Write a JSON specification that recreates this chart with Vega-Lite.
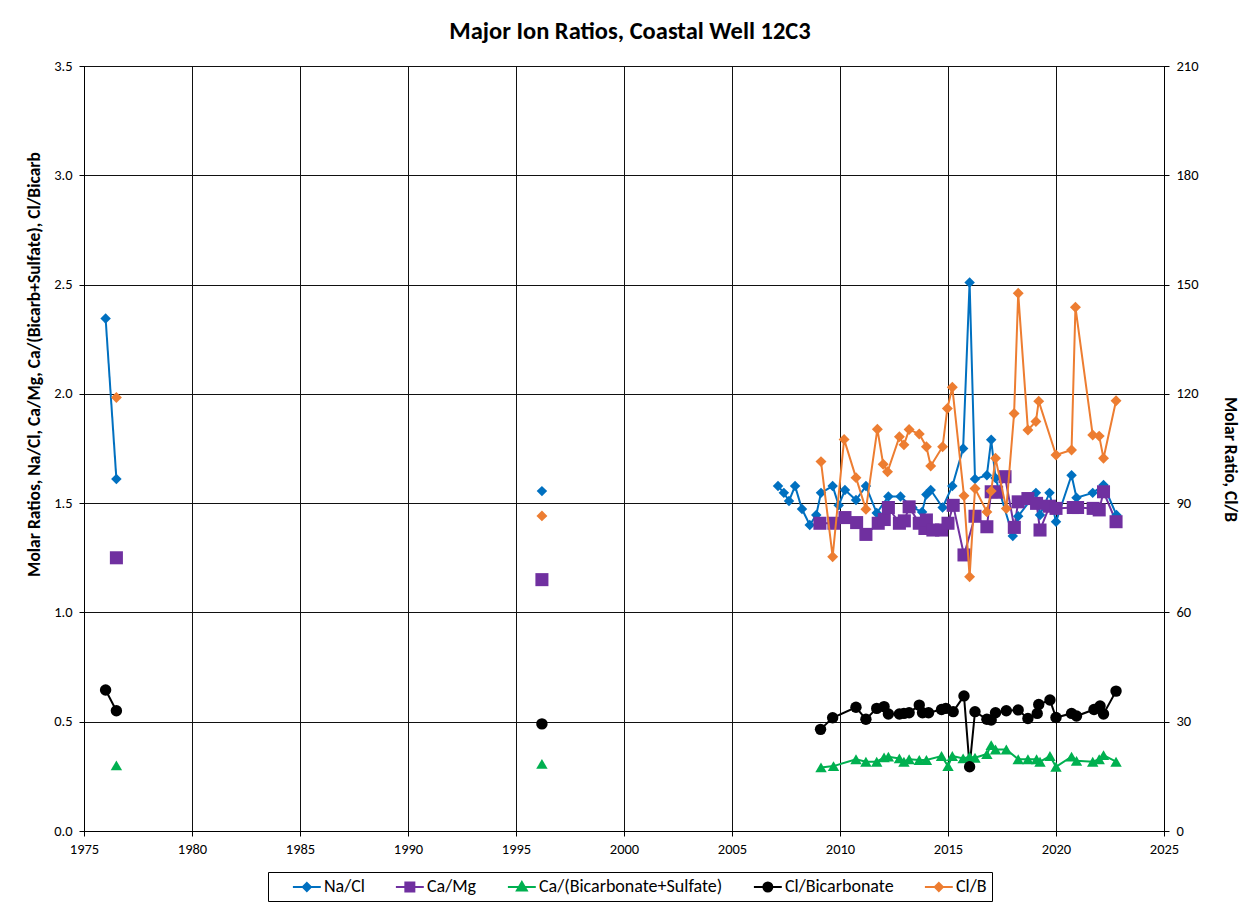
{
  "$schema": "https://vega.github.io/schema/vega-lite/v6.json",
  "width": 1080,
  "height": 765,
  "autosize": {"type": "none"},
  "padding": {"left": 84, "top": 66, "right": 89, "bottom": 76},
  "background": "white",
  "title": {"text": "Major Ion Ratios, Coastal Well 12C3", "fontSize": 24.5, "font": "Carlito, Lato, sans-serif", "fontWeight": "bold", "color": "#000", "offset": 14, "dx": 6},
  "config": {
    "font": "Carlito, Lato, sans-serif",
    "view": {"stroke": "#000", "strokeWidth": 1},
    "axis": {"labelFontSize": 14.5, "labelColor": "#000", "titleColor": "#000", "domainColor": "#000", "tickColor": "#000", "tickSize": 5, "gridColor": "#111", "gridWidth": 1, "gridOpacity": 1, "labelFont": "Carlito, Lato, sans-serif", "titleFont": "Carlito, Lato, sans-serif", "titleFontSize": 17.5, "titleFontWeight": "bold", "labelFlush": false, "labelPadding": 7}
  },
  "data": {"values": [
    {"s": "Na/Cl", "g": "a", "x": 1976.0, "v": 2.345},
    {"s": "Na/Cl", "g": "a", "x": 1976.5, "v": 1.61},
    {"s": "Na/Cl", "g": "b", "x": 1996.2, "v": 1.555},
    {"s": "Na/Cl", "g": "c", "x": 2007.13, "v": 1.578},
    {"s": "Na/Cl", "g": "c", "x": 2007.4, "v": 1.547},
    {"s": "Na/Cl", "g": "c", "x": 2007.64, "v": 1.51},
    {"s": "Na/Cl", "g": "c", "x": 2007.92, "v": 1.578},
    {"s": "Na/Cl", "g": "c", "x": 2008.24, "v": 1.473},
    {"s": "Na/Cl", "g": "c", "x": 2008.6, "v": 1.40},
    {"s": "Na/Cl", "g": "c", "x": 2008.9, "v": 1.446},
    {"s": "Na/Cl", "g": "c", "x": 2009.12, "v": 1.547},
    {"s": "Na/Cl", "g": "c", "x": 2009.66, "v": 1.578},
    {"s": "Na/Cl", "g": "c", "x": 2009.94, "v": 1.49},
    {"s": "Na/Cl", "g": "c", "x": 2010.23, "v": 1.56},
    {"s": "Na/Cl", "g": "c", "x": 2010.74, "v": 1.514},
    {"s": "Na/Cl", "g": "c", "x": 2011.2, "v": 1.578},
    {"s": "Na/Cl", "g": "c", "x": 2011.7, "v": 1.455},
    {"s": "Na/Cl", "g": "c", "x": 2012.24, "v": 1.53},
    {"s": "Na/Cl", "g": "c", "x": 2012.8, "v": 1.53},
    {"s": "Na/Cl", "g": "c", "x": 2013.35, "v": 1.48},
    {"s": "Na/Cl", "g": "c", "x": 2013.8, "v": 1.46},
    {"s": "Na/Cl", "g": "c", "x": 2014.0, "v": 1.54},
    {"s": "Na/Cl", "g": "c", "x": 2014.2, "v": 1.56},
    {"s": "Na/Cl", "g": "c", "x": 2014.75, "v": 1.48},
    {"s": "Na/Cl", "g": "c", "x": 2015.2, "v": 1.578},
    {"s": "Na/Cl", "g": "c", "x": 2015.7, "v": 1.75},
    {"s": "Na/Cl", "g": "c", "x": 2016.0, "v": 2.51},
    {"s": "Na/Cl", "g": "c", "x": 2016.25, "v": 1.61},
    {"s": "Na/Cl", "g": "c", "x": 2016.8, "v": 1.628},
    {"s": "Na/Cl", "g": "c", "x": 2017.0, "v": 1.79},
    {"s": "Na/Cl", "g": "c", "x": 2017.2, "v": 1.615},
    {"s": "Na/Cl", "g": "c", "x": 2018.0, "v": 1.35},
    {"s": "Na/Cl", "g": "c", "x": 2018.25, "v": 1.44},
    {"s": "Na/Cl", "g": "c", "x": 2019.07, "v": 1.547},
    {"s": "Na/Cl", "g": "c", "x": 2019.26, "v": 1.446},
    {"s": "Na/Cl", "g": "c", "x": 2019.7, "v": 1.547},
    {"s": "Na/Cl", "g": "c", "x": 2020.0, "v": 1.415},
    {"s": "Na/Cl", "g": "c", "x": 2020.72, "v": 1.628},
    {"s": "Na/Cl", "g": "c", "x": 2020.95, "v": 1.525},
    {"s": "Na/Cl", "g": "c", "x": 2021.7, "v": 1.547},
    {"s": "Na/Cl", "g": "c", "x": 2022.2, "v": 1.583},
    {"s": "Na/Cl", "g": "c", "x": 2022.8, "v": 1.446},

    {"s": "Ca/Mg", "g": "a", "x": 1976.5, "v": 1.25},
    {"s": "Ca/Mg", "g": "b", "x": 1996.2, "v": 1.15},
    {"s": "Ca/Mg", "g": "c", "x": 2009.07, "v": 1.408},
    {"s": "Ca/Mg", "g": "c", "x": 2009.72, "v": 1.408},
    {"s": "Ca/Mg", "g": "c", "x": 2010.23, "v": 1.434},
    {"s": "Ca/Mg", "g": "c", "x": 2010.77, "v": 1.411},
    {"s": "Ca/Mg", "g": "c", "x": 2011.2, "v": 1.357},
    {"s": "Ca/Mg", "g": "c", "x": 2011.77, "v": 1.408},
    {"s": "Ca/Mg", "g": "c", "x": 2012.05, "v": 1.425},
    {"s": "Ca/Mg", "g": "c", "x": 2012.24, "v": 1.48},
    {"s": "Ca/Mg", "g": "c", "x": 2012.75, "v": 1.408},
    {"s": "Ca/Mg", "g": "c", "x": 2012.98, "v": 1.419},
    {"s": "Ca/Mg", "g": "c", "x": 2013.2, "v": 1.483},
    {"s": "Ca/Mg", "g": "c", "x": 2013.67, "v": 1.408},
    {"s": "Ca/Mg", "g": "c", "x": 2013.93, "v": 1.384},
    {"s": "Ca/Mg", "g": "c", "x": 2014.0, "v": 1.423},
    {"s": "Ca/Mg", "g": "c", "x": 2014.3, "v": 1.377},
    {"s": "Ca/Mg", "g": "c", "x": 2014.7, "v": 1.377},
    {"s": "Ca/Mg", "g": "c", "x": 2015.0, "v": 1.408},
    {"s": "Ca/Mg", "g": "c", "x": 2015.24, "v": 1.49},
    {"s": "Ca/Mg", "g": "c", "x": 2015.74, "v": 1.263},
    {"s": "Ca/Mg", "g": "c", "x": 2016.25, "v": 1.44},
    {"s": "Ca/Mg", "g": "c", "x": 2016.8, "v": 1.392},
    {"s": "Ca/Mg", "g": "c", "x": 2017.0, "v": 1.552},
    {"s": "Ca/Mg", "g": "c", "x": 2017.25, "v": 1.55},
    {"s": "Ca/Mg", "g": "c", "x": 2017.64, "v": 1.621},
    {"s": "Ca/Mg", "g": "c", "x": 2018.07, "v": 1.389},
    {"s": "Ca/Mg", "g": "c", "x": 2018.25, "v": 1.506},
    {"s": "Ca/Mg", "g": "c", "x": 2018.7, "v": 1.521},
    {"s": "Ca/Mg", "g": "c", "x": 2019.1, "v": 1.499},
    {"s": "Ca/Mg", "g": "c", "x": 2019.26, "v": 1.377},
    {"s": "Ca/Mg", "g": "c", "x": 2019.7, "v": 1.486},
    {"s": "Ca/Mg", "g": "c", "x": 2020.0, "v": 1.476},
    {"s": "Ca/Mg", "g": "c", "x": 2020.8, "v": 1.48},
    {"s": "Ca/Mg", "g": "c", "x": 2021.0, "v": 1.48},
    {"s": "Ca/Mg", "g": "c", "x": 2021.72, "v": 1.476},
    {"s": "Ca/Mg", "g": "c", "x": 2022.0, "v": 1.469},
    {"s": "Ca/Mg", "g": "c", "x": 2022.2, "v": 1.552},
    {"s": "Ca/Mg", "g": "c", "x": 2022.78, "v": 1.415},

    {"s": "Ca/(Bicarbonate+Sulfate)", "g": "a", "x": 1976.5, "v": 0.30},
    {"s": "Ca/(Bicarbonate+Sulfate)", "g": "b", "x": 1996.2, "v": 0.307},
    {"s": "Ca/(Bicarbonate+Sulfate)", "g": "c", "x": 2009.12, "v": 0.291},
    {"s": "Ca/(Bicarbonate+Sulfate)", "g": "c", "x": 2009.7, "v": 0.297},
    {"s": "Ca/(Bicarbonate+Sulfate)", "g": "c", "x": 2010.74, "v": 0.328},
    {"s": "Ca/(Bicarbonate+Sulfate)", "g": "c", "x": 2011.2, "v": 0.317},
    {"s": "Ca/(Bicarbonate+Sulfate)", "g": "c", "x": 2011.7, "v": 0.317},
    {"s": "Ca/(Bicarbonate+Sulfate)", "g": "c", "x": 2012.04, "v": 0.337},
    {"s": "Ca/(Bicarbonate+Sulfate)", "g": "c", "x": 2012.24, "v": 0.34},
    {"s": "Ca/(Bicarbonate+Sulfate)", "g": "c", "x": 2012.75, "v": 0.332},
    {"s": "Ca/(Bicarbonate+Sulfate)", "g": "c", "x": 2012.96, "v": 0.317},
    {"s": "Ca/(Bicarbonate+Sulfate)", "g": "c", "x": 2013.2, "v": 0.328},
    {"s": "Ca/(Bicarbonate+Sulfate)", "g": "c", "x": 2013.67, "v": 0.325},
    {"s": "Ca/(Bicarbonate+Sulfate)", "g": "c", "x": 2014.0, "v": 0.325},
    {"s": "Ca/(Bicarbonate+Sulfate)", "g": "c", "x": 2014.7, "v": 0.343},
    {"s": "Ca/(Bicarbonate+Sulfate)", "g": "c", "x": 2015.0, "v": 0.297},
    {"s": "Ca/(Bicarbonate+Sulfate)", "g": "c", "x": 2015.2, "v": 0.343},
    {"s": "Ca/(Bicarbonate+Sulfate)", "g": "c", "x": 2015.7, "v": 0.332},
    {"s": "Ca/(Bicarbonate+Sulfate)", "g": "c", "x": 2016.0, "v": 0.34},
    {"s": "Ca/(Bicarbonate+Sulfate)", "g": "c", "x": 2016.25, "v": 0.335},
    {"s": "Ca/(Bicarbonate+Sulfate)", "g": "c", "x": 2016.8, "v": 0.352},
    {"s": "Ca/(Bicarbonate+Sulfate)", "g": "c", "x": 2017.0, "v": 0.393},
    {"s": "Ca/(Bicarbonate+Sulfate)", "g": "c", "x": 2017.2, "v": 0.373},
    {"s": "Ca/(Bicarbonate+Sulfate)", "g": "c", "x": 2017.7, "v": 0.373},
    {"s": "Ca/(Bicarbonate+Sulfate)", "g": "c", "x": 2018.25, "v": 0.328},
    {"s": "Ca/(Bicarbonate+Sulfate)", "g": "c", "x": 2018.7, "v": 0.328},
    {"s": "Ca/(Bicarbonate+Sulfate)", "g": "c", "x": 2019.1, "v": 0.328},
    {"s": "Ca/(Bicarbonate+Sulfate)", "g": "c", "x": 2019.26, "v": 0.317},
    {"s": "Ca/(Bicarbonate+Sulfate)", "g": "c", "x": 2019.72, "v": 0.343},
    {"s": "Ca/(Bicarbonate+Sulfate)", "g": "c", "x": 2020.0, "v": 0.294},
    {"s": "Ca/(Bicarbonate+Sulfate)", "g": "c", "x": 2020.72, "v": 0.34},
    {"s": "Ca/(Bicarbonate+Sulfate)", "g": "c", "x": 2020.95, "v": 0.321},
    {"s": "Ca/(Bicarbonate+Sulfate)", "g": "c", "x": 2021.7, "v": 0.317},
    {"s": "Ca/(Bicarbonate+Sulfate)", "g": "c", "x": 2022.0, "v": 0.328},
    {"s": "Ca/(Bicarbonate+Sulfate)", "g": "c", "x": 2022.2, "v": 0.347},
    {"s": "Ca/(Bicarbonate+Sulfate)", "g": "c", "x": 2022.78, "v": 0.317},

    {"s": "Cl/Bicarbonate", "g": "a", "x": 1976.0, "v": 0.645},
    {"s": "Cl/Bicarbonate", "g": "a", "x": 1976.5, "v": 0.55},
    {"s": "Cl/Bicarbonate", "g": "b", "x": 1996.2, "v": 0.49},
    {"s": "Cl/Bicarbonate", "g": "c", "x": 2009.1, "v": 0.465},
    {"s": "Cl/Bicarbonate", "g": "c", "x": 2009.66, "v": 0.518},
    {"s": "Cl/Bicarbonate", "g": "c", "x": 2010.74, "v": 0.566},
    {"s": "Cl/Bicarbonate", "g": "c", "x": 2011.2, "v": 0.511},
    {"s": "Cl/Bicarbonate", "g": "c", "x": 2011.7, "v": 0.561},
    {"s": "Cl/Bicarbonate", "g": "c", "x": 2012.04, "v": 0.569},
    {"s": "Cl/Bicarbonate", "g": "c", "x": 2012.24, "v": 0.535},
    {"s": "Cl/Bicarbonate", "g": "c", "x": 2012.75, "v": 0.535},
    {"s": "Cl/Bicarbonate", "g": "c", "x": 2012.96, "v": 0.538},
    {"s": "Cl/Bicarbonate", "g": "c", "x": 2013.2, "v": 0.541},
    {"s": "Cl/Bicarbonate", "g": "c", "x": 2013.67, "v": 0.576},
    {"s": "Cl/Bicarbonate", "g": "c", "x": 2013.82, "v": 0.541},
    {"s": "Cl/Bicarbonate", "g": "c", "x": 2014.1, "v": 0.541},
    {"s": "Cl/Bicarbonate", "g": "c", "x": 2014.7, "v": 0.556},
    {"s": "Cl/Bicarbonate", "g": "c", "x": 2014.9, "v": 0.561},
    {"s": "Cl/Bicarbonate", "g": "c", "x": 2015.24, "v": 0.546},
    {"s": "Cl/Bicarbonate", "g": "c", "x": 2015.74, "v": 0.618},
    {"s": "Cl/Bicarbonate", "g": "c", "x": 2016.0, "v": 0.294},
    {"s": "Cl/Bicarbonate", "g": "c", "x": 2016.25, "v": 0.546},
    {"s": "Cl/Bicarbonate", "g": "c", "x": 2016.8, "v": 0.511},
    {"s": "Cl/Bicarbonate", "g": "c", "x": 2017.0, "v": 0.508},
    {"s": "Cl/Bicarbonate", "g": "c", "x": 2017.2, "v": 0.541},
    {"s": "Cl/Bicarbonate", "g": "c", "x": 2017.7, "v": 0.55},
    {"s": "Cl/Bicarbonate", "g": "c", "x": 2018.25, "v": 0.554},
    {"s": "Cl/Bicarbonate", "g": "c", "x": 2018.7, "v": 0.515},
    {"s": "Cl/Bicarbonate", "g": "c", "x": 2019.13, "v": 0.538},
    {"s": "Cl/Bicarbonate", "g": "c", "x": 2019.2, "v": 0.579},
    {"s": "Cl/Bicarbonate", "g": "c", "x": 2019.72, "v": 0.599},
    {"s": "Cl/Bicarbonate", "g": "c", "x": 2020.0, "v": 0.519},
    {"s": "Cl/Bicarbonate", "g": "c", "x": 2020.72, "v": 0.538},
    {"s": "Cl/Bicarbonate", "g": "c", "x": 2020.95, "v": 0.526},
    {"s": "Cl/Bicarbonate", "g": "c", "x": 2021.76, "v": 0.556},
    {"s": "Cl/Bicarbonate", "g": "c", "x": 2022.04, "v": 0.572},
    {"s": "Cl/Bicarbonate", "g": "c", "x": 2022.2, "v": 0.535},
    {"s": "Cl/Bicarbonate", "g": "c", "x": 2022.78, "v": 0.64},

    {"s": "Cl/B", "g": "a", "x": 1976.5, "v": 119},
    {"s": "Cl/B", "g": "b", "x": 1996.2, "v": 86.5},
    {"s": "Cl/B", "g": "c", "x": 2009.12, "v": 101.4},
    {"s": "Cl/B", "g": "c", "x": 2009.66, "v": 75.3},
    {"s": "Cl/B", "g": "c", "x": 2010.19, "v": 107.5},
    {"s": "Cl/B", "g": "c", "x": 2010.74, "v": 97},
    {"s": "Cl/B", "g": "c", "x": 2011.2, "v": 88.3},
    {"s": "Cl/B", "g": "c", "x": 2011.73, "v": 110.3},
    {"s": "Cl/B", "g": "c", "x": 2012.0, "v": 100.7},
    {"s": "Cl/B", "g": "c", "x": 2012.2, "v": 98.6},
    {"s": "Cl/B", "g": "c", "x": 2012.75, "v": 108.2},
    {"s": "Cl/B", "g": "c", "x": 2012.96, "v": 106},
    {"s": "Cl/B", "g": "c", "x": 2013.2, "v": 110.2},
    {"s": "Cl/B", "g": "c", "x": 2013.67, "v": 109},
    {"s": "Cl/B", "g": "c", "x": 2014.0, "v": 105.5},
    {"s": "Cl/B", "g": "c", "x": 2014.2, "v": 100.2},
    {"s": "Cl/B", "g": "c", "x": 2014.75, "v": 105.5},
    {"s": "Cl/B", "g": "c", "x": 2014.97, "v": 116},
    {"s": "Cl/B", "g": "c", "x": 2015.2, "v": 121.8},
    {"s": "Cl/B", "g": "c", "x": 2015.74, "v": 92},
    {"s": "Cl/B", "g": "c", "x": 2016.0, "v": 69.8},
    {"s": "Cl/B", "g": "c", "x": 2016.25, "v": 94},
    {"s": "Cl/B", "g": "c", "x": 2016.8, "v": 87.6},
    {"s": "Cl/B", "g": "c", "x": 2017.0, "v": 93.3},
    {"s": "Cl/B", "g": "c", "x": 2017.2, "v": 102.3},
    {"s": "Cl/B", "g": "c", "x": 2017.7, "v": 88.5},
    {"s": "Cl/B", "g": "c", "x": 2018.06, "v": 114.6},
    {"s": "Cl/B", "g": "c", "x": 2018.25, "v": 147.6},
    {"s": "Cl/B", "g": "c", "x": 2018.7, "v": 110.1},
    {"s": "Cl/B", "g": "c", "x": 2019.07, "v": 112.4},
    {"s": "Cl/B", "g": "c", "x": 2019.2, "v": 118},
    {"s": "Cl/B", "g": "c", "x": 2020.0, "v": 103.2},
    {"s": "Cl/B", "g": "c", "x": 2020.72, "v": 104.6},
    {"s": "Cl/B", "g": "c", "x": 2020.9, "v": 143.8},
    {"s": "Cl/B", "g": "c", "x": 2021.7, "v": 108.7},
    {"s": "Cl/B", "g": "c", "x": 2022.0, "v": 108.4},
    {"s": "Cl/B", "g": "c", "x": 2022.2, "v": 102.3},
    {"s": "Cl/B", "g": "c", "x": 2022.78, "v": 118.1}
  ]},
  "encoding": {
    "x": {"field": "x", "type": "quantitative", "title": null,
          "scale": {"domain": [1975, 2025], "nice": false, "zero": false},
          "axis": {"values": [1975, 1980, 1985, 1990, 1995, 2000, 2005, 2010, 2015, 2020, 2025], "format": "d", "grid": true, "labelPadding": 6}},
    "color": {"field": "s", "type": "nominal", "title": null,
              "scale": {"domain": ["Na/Cl", "Ca/Mg", "Ca/(Bicarbonate+Sulfate)", "Cl/Bicarbonate", "Cl/B"],
                        "range": ["#0070C0", "#7030A0", "#00B050", "#000000", "#ED7D31"]},
              "legend": {"orient": "none", "legendX": 184, "legendY": 806, "direction": "horizontal", "columns": 5,
                         "strokeColor": "#000", "padding": 5, "fillColor": "#fff",
                         "labelFontSize": 18, "labelFont": "Carlito, Lato, sans-serif", "labelColor": "#000", "labelOffset": 31, "labelLimit": 400,
                         "symbolSize": 324, "columnPadding": 8, "rowPadding": 0,
                         "encode": {"symbols": {"update": {
                           "shape": {"signal": "datum.value === 'Ca/Mg' ? 'M-1,0M1.1,0H4.2M2.15,-0.5H3.15V0.5H2.15Z' : datum.value === 'Ca/(Bicarbonate+Sulfate)' ? 'M-1,0M1.1,0H4.2M2.65,-0.55L3.2,0.4H2.1Z' : datum.value === 'Cl/Bicarbonate' ? 'M-1,0M1.1,0H4.2M3.15,0A0.5,0.5,0,1,1,2.15,0A0.5,0.5,0,1,1,3.15,0Z' : 'M-1,0M1.1,0H4.2M2.65,-0.45L3.1,0L2.65,0.45L2.2,0Z'"},
                           "fill": {"signal": "scale('color', datum.value)"},
                           "stroke": {"signal": "scale('color', datum.value)"},
                           "strokeWidth": {"value": 2},
                           "opacity": {"value": 1},
                           "fillOpacity": {"value": 1}
                         }}}}}
  },
  "layer": [
    {
      "transform": [{"filter": "datum.s !== 'Cl/B'"}],
      "encoding": {
        "y": {"field": "v", "type": "quantitative", "title": "Molar Ratios, Na/Cl,  Ca/Mg, Ca/(Bicarb+Sulfate),  Cl/Bicarb",
              "scale": {"domain": [0, 3.5], "nice": false},
              "axis": {"values": [0, 0.5, 1, 1.5, 2, 2.5, 3, 3.5], "format": ".1f", "grid": true, "titlePadding": 10, "titleY": 298}}
      },
      "layer": [
        {"mark": {"type": "line", "strokeWidth": 2}, "encoding": {"detail": {"field": "g"}}},
        {"mark": {"type": "point", "filled": true, "opacity": 1},
         "encoding": {
          "shape": {"condition": [
            {"test": "datum.s === 'Ca/Mg'", "value": "square"},
            {"test": "datum.s === 'Cl/Bicarbonate'", "value": "circle"},
            {"test": "datum.s === 'Ca/(Bicarbonate+Sulfate)'", "value": "triangle-up"}
          ], "value": "diamond"},
          "size": {"condition": [
            {"test": "datum.s === 'Ca/Mg'", "value": 170},
            {"test": "datum.s === 'Cl/Bicarbonate'", "value": 130},
            {"test": "datum.s === 'Ca/(Bicarbonate+Sulfate)'", "value": 130}
          ], "value": 110}}}
      ]
    },
    {
      "transform": [{"filter": "datum.s === 'Cl/B'"}],
      "encoding": {
        "y": {"field": "v", "type": "quantitative", "title": "Molar Ratio, Cl/B",
              "scale": {"domain": [0, 210], "nice": false},
              "axis": {"orient": "right", "values": [0, 30, 60, 90, 120, 150, 180, 210], "format": "d", "grid": false, "titlePadding": 22, "titleY": 393}}
      },
      "layer": [
        {"mark": {"type": "line", "strokeWidth": 2}, "encoding": {"detail": {"field": "g"}}},
        {"mark": {"type": "point", "filled": true, "opacity": 1, "size": 120, "shape": "diamond"}}
      ]
    }
  ],
  "resolve": {"scale": {"y": "independent"}, "axis": {"y": "independent"}}
}
